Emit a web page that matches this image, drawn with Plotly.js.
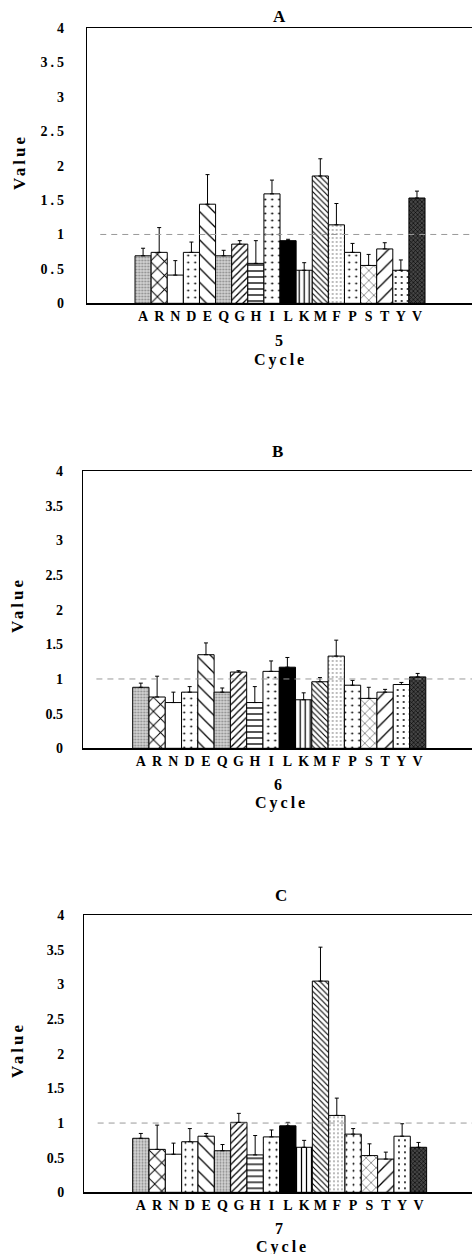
<!DOCTYPE html>
<html>
<head>
<meta charset="utf-8">
<script src="https://cdn.plot.ly/plotly-3.0.1.min.js"></script>
<style>
  html, body { margin: 0; padding: 0; overflow: hidden; background: #fff; }
  #chart { width: 480px; height: 1254px; }
  .ytick text { letter-spacing: 3px; }
  .annotation-text { letter-spacing: 3px; }
</style>
</head>
<body>
<div id="chart"></div>
<script>
// ---- data ----
const categories = ['A','R','N','D','E','Q','G','H','I','L','K','M','F','P','S','T','Y','V'];
const panelLabels = ['A','B','C'];
const cycles = ['5','6','7'];
const yTickVals = [0, 0.5, 1, 1.5, 2, 2.5, 3, 3.5, 4];
const referenceLevel = 1;

const valuesCycle5 = [0.69,0.74,0.41,0.74,1.44,0.69,0.86,0.58,1.59,0.91,0.48,1.85,1.14,0.74,0.55,0.79,0.48,1.53];
const errorsCycle5 = [0.11,0.36,0.21,0.15,0.43,0.08,0.05,0.33,0.20,0.02,0.11,0.25,0.31,0.13,0.16,0.09,0.15,0.10];

const valuesCycle6 = [0.88,0.74,0.66,0.81,1.35,0.81,1.10,0.66,1.11,1.17,0.70,0.96,1.33,0.91,0.72,0.81,0.92,1.03];
const errorsCycle6 = [0.06,0.30,0.15,0.08,0.17,0.06,0.02,0.23,0.15,0.14,0.10,0.06,0.23,0.07,0.16,0.04,0.03,0.05];

const valuesCycle7 = [0.78,0.62,0.55,0.73,0.81,0.60,1.01,0.54,0.80,0.96,0.65,3.05,1.11,0.84,0.53,0.48,0.81,0.65];
const errorsCycle7 = [0.07,0.35,0.16,0.19,0.04,0.09,0.13,0.28,0.10,0.05,0.10,0.49,0.25,0.08,0.17,0.10,0.18,0.07];

// ---- styles (per category fill pattern) ----
const patBg     = ['#d4d4d4','#ffffff','#ffffff','#ffffff','#ffffff','#d4d4d4','#ffffff','#ffffff','#ffffff','#000000','#ffffff','#ffffff','#ffffff','#ffffff','#ffffff','#ffffff','#ffffff','#454545'];
const patShape  = ['.','x','','.','\\','.','/','-','.','-','|','\\','.','.','x','/','.','x'];
const patFg     = ['#8a8a8a','#000000','#000000','#000000','#000000','#8a8a8a','#000000','#000000','#000000','#000000','#000000','#000000','#555555','#000000','#000000','#000000','#000000','#000000'];
const patSize   = [3,10,8,7,10,3,5,6,7,8,5,4,4,7,7,10,6,3];
const patSolid  = [0.35,0.18,0.2,0.06,0.13,0.35,0.25,0.22,0.07,0.2,0.25,0.28,0.1,0.06,0.12,0.13,0.08,0.35];

// ---- layout geometry (pixels) ----
const W = 480, H = 1254;
const panels = [
  {vals: valuesCycle5, errs: errorsCycle5, left: 86.7, right: 474, top: 28, bottom: 303.3, xr: [-3.50, 20.54],
   title: [280, 16], cyc: [280, 341], cyc2: [280, 360], val: [19, 162]},
  {vals: valuesCycle6, errs: errorsCycle6, left: 82.7, right: 474, top: 471, bottom: 748.3, xr: [-3.57, 20.46],
   title: [279, 451], cyc: [279, 784], cyc2: [281, 803], val: [18, 605]},
  {vals: valuesCycle7, errs: errorsCycle7, left: 84, right: 474, top: 915.3, bottom: 1192.3, xr: [-3.48, 20.40],
   title: [282, 895], cyc: [280, 1228], cyc2: [282, 1247], val: [17, 1050]}
];
const px = x => x / W;
const py = y => 1 - y / H;

const serif = 'Liberation Serif, Times New Roman, serif';
const traces = [];
const layout = {
  width: W, height: H,
  margin: {l: 0, r: 0, t: 0, b: 0},
  paper_bgcolor: '#fff', plot_bgcolor: '#fff',
  showlegend: false, bargap: 0,
  font: {family: serif, color: '#000'},
  shapes: [], annotations: []
};

panels.forEach((p, i) => {
  const n = i === 0 ? '' : String(i + 1);
  traces.push({
    type: 'bar', x: categories, y: p.vals,
    xaxis: 'x' + n, yaxis: 'y' + n,
    marker: {
      color: '#ffffff',
      line: {color: '#000', width: 1},
      pattern: {shape: patShape, fgcolor: patFg, bgcolor: patBg, size: patSize, solidity: patSolid, fillmode: 'replace', fgopacity: 1}
    },
    error_y: {type: 'data', symmetric: false, array: p.errs, arrayminus: p.errs.map(() => 0),
              color: '#000', thickness: 1, width: 2},
    hoverinfo: 'skip'
  });
  layout['xaxis' + n] = {
    domain: [px(p.left), px(p.right)], anchor: 'y' + n,
    type: 'category', range: p.xr, dtick: 1, tickmode: 'linear',
    showline: true, linecolor: '#000', linewidth: 1.3, mirror: true,
    ticks: '', showgrid: false, zeroline: false,
    tickfont: {family: serif, size: 14, color: '#000', weight: 'bold'}
  };
  layout['yaxis' + n] = {
    domain: [py(p.bottom), py(p.top)], anchor: 'x' + n,
    range: [0, 4], tickvals: yTickVals,
    showline: true, linecolor: '#000', linewidth: 1, mirror: true,
    ticks: '', showgrid: false, zeroline: false,
    ticklabelstandoff: 16,
    tickfont: {family: serif, size: 14, color: '#000', weight: 'bold'}
  };
  layout.shapes.push({
    type: 'line', xref: 'x' + n + ' domain', yref: 'y' + n,
    x0: 0.035, x1: 1, y0: referenceLevel, y1: referenceLevel,
    line: {color: '#9a9a9a', width: 1, dash: '6px,5px'}
  });
  const ann = (txt, xy, size, extra) => Object.assign({
    text: txt, xref: 'paper', yref: 'paper', x: px(xy[0]), y: py(xy[1]),
    xanchor: 'center', yanchor: 'middle', showarrow: false,
    font: {family: serif, size: size, color: '#000', weight: 'bold'}
  }, extra || {});
  layout.annotations.push(ann(panelLabels[i], p.title, 17));
  layout.annotations.push(ann(cycles[i], p.cyc, 16));
  layout.annotations.push(ann('Cycle', p.cyc2, 16));
  layout.annotations.push(ann('Value', p.val, 17, {textangle: -90}));
});

Plotly.newPlot('chart', traces, layout, {staticPlot: true, displayModeBar: false});
</script>
</body>
</html>
